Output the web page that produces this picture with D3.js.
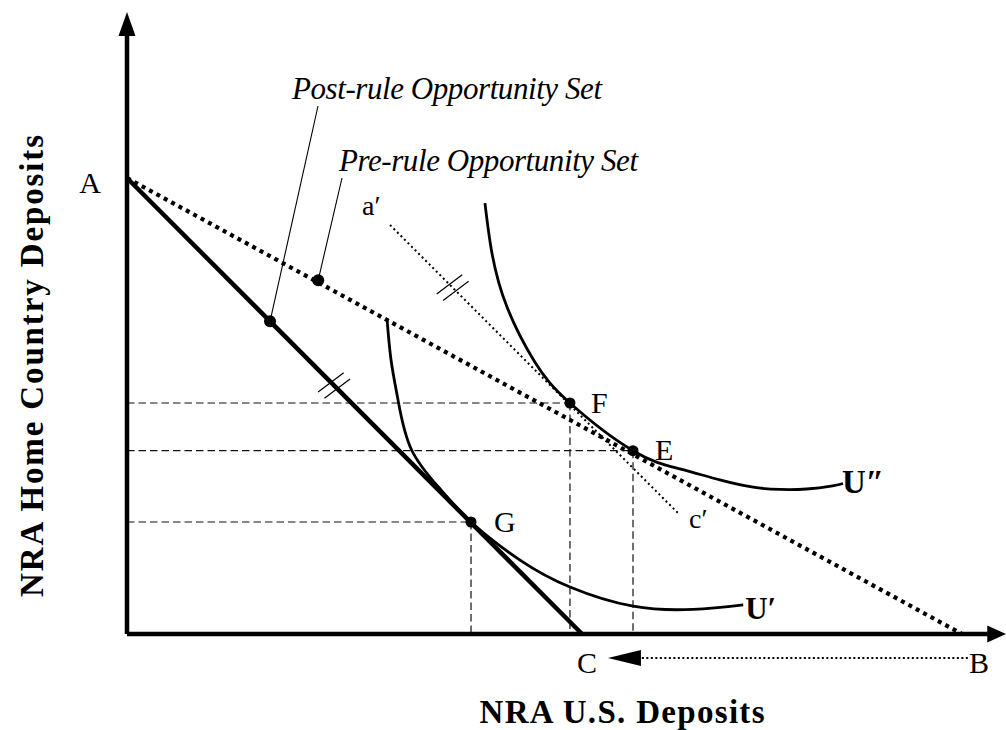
<!DOCTYPE html>
<html>
<head>
<meta charset="utf-8">
<script src="https://cdn.jsdelivr.net/npm/d3@7"></script>
<style>
  html, body { margin: 0; padding: 0; background: #fff; }
  svg { display: block; }
  text { font-family: "Liberation Serif", "Times New Roman", serif; fill: #000; }
</style>
</head>
<body>
<svg id="chart" width="1006" height="730"></svg>
<script>
// ---------------- data (economic units) ----------------
const axisExtent = [105.3, 136.4];                 // x max, y max of the axes
const budgetPre  = [[0, 100], [100, 0]];            // A -> B  (pre-rule opportunity set)
const budgetPost = [[0, 100], [54.5, 0]];           // A -> C  (post-rule opportunity set)
const tangentAC  = [[31.5, 89.7], [66.0, 26.5]];    // a' -> c' (parallel to AC, through F)
const curveU2 = [[42.87, 94.5], [43.71, 83.5], [45.51, 71.7], [48.86, 59.6], [53.05, 50.66],
                 [60.6, 40.2], [66.2, 36.2], [71.0, 33.8], [75.0, 32.2], [78.2, 31.7],
                 [81.4, 31.8], [84.5, 32.5], [85.75, 33.0]];
const curveU1 = [[31.14, 69.1], [31.62, 60.1], [32.46, 51.3], [34.1, 40.3], [37.6, 31.6],
                 [41.2, 24.56], [47.07, 16.2], [53.05, 10.3], [60.6, 6.1], [67.8, 5.4], [73.8, 6.4]];
const eqNames  = ["F", "E", "G"];
const eqX      = [53.05, 60.6, 41.2];
const eqY      = [50.66, 40.2, 24.56];
const setMarkX = [17.13, 22.9];                     // dots on post / pre opportunity sets
const setMarkY = [68.57, 77.6];
const setNames = ["Post-rule Opportunity Set", "Pre-rule Opportunity Set"];
const tickAlong = [24.8, 39.0];                     // x positions of the "//" marks (AC, a'c')
const shiftArrow = [[100.7, -5.26], [57.6, -5.26]]; // B -> C shift arrow
const pointNames = ["A", "B", "C"];
const curveNames = ["U\u2033", "U\u2032"];
const lineNames  = ["a\u2032", "c\u2032"];
const axisTitles = ["NRA U.S. Deposits", "NRA Home Country Deposits"];

// ---------------- scales ----------------
const svg = d3.select("#chart");
const x = d3.scaleLinear().domain([0, 100]).range([127, 962]);
const y = d3.scaleLinear().domain([0, 100]).range([634, 178]);
const line = d3.line().x(d => x(d[0])).y(d => y(d[1]));
const smooth = d3.line().x(d => x(d[0])).y(d => y(d[1])).curve(d3.curveNatural);

// ---------------- dashed guide lines ----------------
const guides = svg.append("g").attr("stroke", "#111").attr("stroke-width", 1.2)
  .attr("stroke-dasharray", "7.5 4").attr("fill", "none");
eqX.forEach((vx, i) => {
  guides.append("path").attr("d", line([[0, eqY[i]], [vx, eqY[i]]]));
  guides.append("path").attr("d", line([[vx, eqY[i]], [vx, 0]]));
});

// ---------------- axes ----------------
const axes = svg.append("g");
axes.append("path").attr("d", line([[0, 0], [0, axisExtent[1] - 5]]))
  .attr("stroke", "#000").attr("stroke-width", 4.5);
axes.append("path").attr("d", line([[0, 0], [axisExtent[0] - 2, 0]]))
  .attr("stroke", "#000").attr("stroke-width", 4.5);
const ty = y(axisExtent[1]), tx = x(axisExtent[0]);
axes.append("path").attr("d", `M${x(0)},${ty} L${x(0) - 8.5},${ty + 24} L${x(0) + 8.5},${ty + 24} Z`).attr("fill", "#000");
axes.append("path").attr("d", `M${tx},${y(0)} L${tx - 19},${y(0) - 8.5} L${tx - 19},${y(0) + 8.5} Z`).attr("fill", "#000");

// ---------------- opportunity sets ----------------
svg.append("path").attr("d", line(budgetPre)).attr("fill", "none")
  .attr("stroke", "#000").attr("stroke-width", 4.2).attr("stroke-dasharray", "4 4.4");
svg.append("path").attr("d", line(budgetPost)).attr("fill", "none")
  .attr("stroke", "#000").attr("stroke-width", 4.5);
svg.append("path").attr("d", line(tangentAC)).attr("fill", "none")
  .attr("stroke", "#000").attr("stroke-width", 2).attr("stroke-dasharray", "2 3");

// ---------------- indifference curves ----------------
[curveU2, curveU1].forEach(c => {
  svg.append("path").attr("d", smooth(c)).attr("fill", "none")
    .attr("stroke", "#000").attr("stroke-width", 2.8);
});

// ---------------- parallel marks "//" ----------------
function lerpY(seg, vx) {
  const [[x0, y0], [x1, y1]] = seg;
  return y0 + (y1 - y0) * (vx - x0) / (x1 - x0);
}
[[budgetPost, tickAlong[0]], [tangentAC, tickAlong[1]]].forEach(([seg, vx]) => {
  const cx = x(vx), cy = y(lerpY(seg, vx));
  const ang = -37 * Math.PI / 180, L = 16;
  const dx = Math.cos(ang) * L, dy = Math.sin(ang) * L;
  [-4.5, 4.5].forEach(o => {
    const ox = o * 0.707, oy = o * 0.707;
    svg.append("line")
      .attr("x1", cx + ox - dx).attr("y1", cy + oy - dy)
      .attr("x2", cx + ox + dx).attr("y2", cy + oy + dy)
      .attr("stroke", "#000").attr("stroke-width", 1.2);
  });
});

// ---------------- annotation leaders + dots ----------------
const leaderTop = [[318, 106], [342, 178]];
setMarkX.forEach((vx, i) => {
  svg.append("line").attr("x1", leaderTop[i][0]).attr("y1", leaderTop[i][1])
    .attr("x2", x(vx)).attr("y2", y(setMarkY[i])).attr("stroke", "#000").attr("stroke-width", 1.1);
  svg.append("circle").attr("cx", x(vx)).attr("cy", y(setMarkY[i])).attr("r", 6).attr("fill", "#000");
});
const setLabelPos = [[292, 99, 310], [339, 171, 299]];
setNames.forEach((t, i) => {
  svg.append("text").attr("x", setLabelPos[i][0]).attr("y", setLabelPos[i][1])
    .attr("font-size", 31).attr("font-style", "italic")
    .attr("textLength", setLabelPos[i][2]).attr("lengthAdjust", "spacing").text(t);
});

// ---------------- equilibrium points ----------------
eqX.forEach((vx, i) => {
  svg.append("circle").attr("cx", x(vx)).attr("cy", y(eqY[i])).attr("r", 5.5).attr("fill", "#000");
});
const eqOff = [[21, 10], [22, 9.5], [23, 10]];
eqNames.forEach((n, i) => {
  svg.append("text").attr("x", x(eqX[i]) + eqOff[i][0]).attr("y", y(eqY[i]) + eqOff[i][1])
    .attr("font-size", 30).text(n);
});

// ---------------- shift arrow B -> C ----------------
const ax0 = x(shiftArrow[0][0]), ax1 = x(shiftArrow[1][0]), ay = y(shiftArrow[0][1]);
svg.append("line").attr("x1", ax0).attr("y1", ay).attr("x2", ax1 + 30).attr("y2", ay)
  .attr("stroke", "#000").attr("stroke-width", 2).attr("stroke-dasharray", "2 2.5");
svg.append("path").attr("d", `M${ax1},${ay} L${ax1 + 33},${ay - 8} L${ax1 + 33},${ay + 8} Z`).attr("fill", "#000");

// ---------------- point labels ----------------
svg.append("text").attr("x", x(0) - 37).attr("y", y(100) + 15).attr("text-anchor", "middle")
  .attr("font-size", 30).text(pointNames[0]);
svg.append("text").attr("x", x(budgetPre[1][0]) + 7).attr("y", y(0) + 39)
  .attr("font-size", 30).text(pointNames[1]);
svg.append("text").attr("x", x(budgetPost[1][0]) - 5).attr("y", y(0) + 39)
  .attr("font-size", 30).text(pointNames[2]);

// curve labels
const lastU2 = curveU2[curveU2.length - 1], lastU1 = curveU1[curveU1.length - 1];
svg.append("text").attr("x", x(lastU2[0]) - 1).attr("y", y(lastU2[1]) + 9)
  .attr("font-size", 33).attr("font-weight", "bold").text(curveNames[0]);
svg.append("text").attr("x", x(lastU1[0]) + 2).attr("y", y(lastU1[1]) + 14)
  .attr("font-size", 31).attr("font-weight", "bold").text(curveNames[1]);

// a' c' labels
svg.append("text").attr("x", x(tangentAC[0][0]) - 28).attr("y", y(tangentAC[0][1]) - 10)
  .attr("font-size", 28).text(lineNames[0]);
svg.append("text").attr("x", x(tangentAC[1][0]) + 11).attr("y", y(tangentAC[1][1]) + 15)
  .attr("font-size", 28).text(lineNames[1]);

// ---------------- axis titles ----------------
svg.append("text").attr("x", 622).attr("y", 723).attr("text-anchor", "middle")
  .attr("font-size", 33).attr("font-weight", "bold")
  .attr("textLength", 285).attr("lengthAdjust", "spacing").text(axisTitles[0]);
svg.append("text").attr("transform", "translate(43,366) rotate(-90)").attr("text-anchor", "middle")
  .attr("font-size", 33).attr("font-weight", "bold")
  .attr("textLength", 462).attr("lengthAdjust", "spacing").text(axisTitles[1]);
</script>
</body>
</html>
